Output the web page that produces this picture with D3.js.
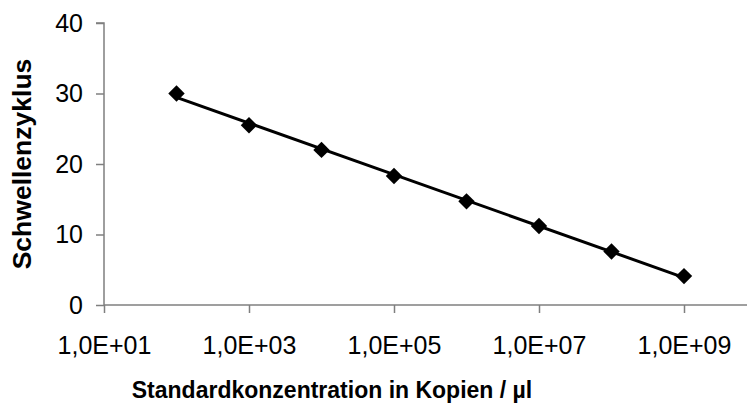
<!DOCTYPE html>
<html>
<head>
<meta charset="utf-8">
<script src="https://cdn.jsdelivr.net/npm/d3@7"></script>
<style>
  html, body { margin: 0; padding: 0; background: #fff; }
  svg { display: block; }
  text { font-family: "Liberation Sans", Arial, sans-serif; fill: #000; }
</style>
</head>
<body>
<svg id="chart" width="747" height="412"></svg>
<script>
// Standard curve: copies per µl vs. threshold cycle
const concentrations = [1e2, 1e3, 1e4, 1e5, 1e6, 1e7, 1e8, 1e9];
const thresholdCycles = [30.0, 25.5, 22.0, 18.3, 14.7, 11.2, 7.6, 4.1];
const xTickValues = [1e1, 1e3, 1e5, 1e7, 1e9];
const yTickValues = [0, 10, 20, 30, 40];
const xTitle = "Standardkonzentration in Kopien / µl";
const yTitle = "Schwellenzyklus";

const svg = d3.select("#chart");

const x = d3.scaleLog().domain([1e1, 1e10]).range([104, 756.5]);
const y = d3.scaleLinear().domain([0, 40]).range([305, 23]);

const axisColor = "#7f7f7f";

// x axis
const xAxis = svg.append("g")
  .attr("transform", `translate(0,${y(0)})`)
  .call(d3.axisBottom(x)
    .tickValues(xTickValues)
    .tickSize(8)
    .tickPadding(23)
    .tickFormat(d => {
      const e = Math.round(Math.log10(d));
      return "1,0E+" + String(e).padStart(2, "0");
    }));
xAxis.select(".domain").attr("stroke", axisColor).attr("stroke-width", 1.5)
  .attr("d", `M${x(1e1)},0H760`);
xAxis.selectAll(".tick line").attr("stroke", axisColor).attr("stroke-width", 1.5);
xAxis.selectAll(".tick text").style("font-size", "25px").attr("fill", "#000");

// y axis
const yAxis = svg.append("g")
  .attr("transform", `translate(${x(1e1)},0)`)
  .call(d3.axisLeft(y)
    .tickValues(yTickValues)
    .tickSize(8)
    .tickPadding(13));
yAxis.select(".domain").attr("stroke", axisColor).attr("stroke-width", 1.5)
  .attr("d", `M-8,${y(40)}H0V${y(0)}`);
yAxis.selectAll(".tick line").attr("stroke", axisColor).attr("stroke-width", 1.5);
yAxis.selectAll(".tick text").style("font-size", "25px").attr("fill", "#000");

// least-squares trend line in log10(concentration)
const lx = concentrations.map(Math.log10);
const mx = d3.mean(lx), my = d3.mean(thresholdCycles);
const slope = d3.sum(lx, (v, i) => (v - mx) * (thresholdCycles[i] - my)) /
              d3.sum(lx, v => (v - mx) * (v - mx));
const intercept = my - slope * mx;
const ends = [d3.min(concentrations), d3.max(concentrations)];

svg.append("path")
  .datum(ends)
  .attr("fill", "none")
  .attr("stroke", "#000")
  .attr("stroke-width", 3)
  .attr("d", d3.line()
    .x(d => x(d))
    .y(d => y(intercept + slope * Math.log10(d))));

// data markers (diamonds)
const diamond = d3.symbol().type(d3.symbolSquare).size(135);
svg.append("g").selectAll("path")
  .data(concentrations)
  .join("path")
  .attr("d", diamond)
  .attr("fill", "#000")
  .attr("transform", (d, i) => `translate(${x(d)},${y(thresholdCycles[i])}) rotate(45)`);

// axis titles
svg.append("text")
  .attr("x", 332)
  .attr("y", 398)
  .attr("text-anchor", "middle")
  .style("font-size", "23px")
  .style("font-weight", "bold")
  .text(xTitle);

svg.append("text")
  .attr("transform", `translate(31,${(y(0) + y(40)) / 2}) rotate(-90)`)
  .attr("text-anchor", "middle")
  .style("font-size", "26.5px")
  .style("font-weight", "bold")
  .text(yTitle);
</script>
</body>
</html>
